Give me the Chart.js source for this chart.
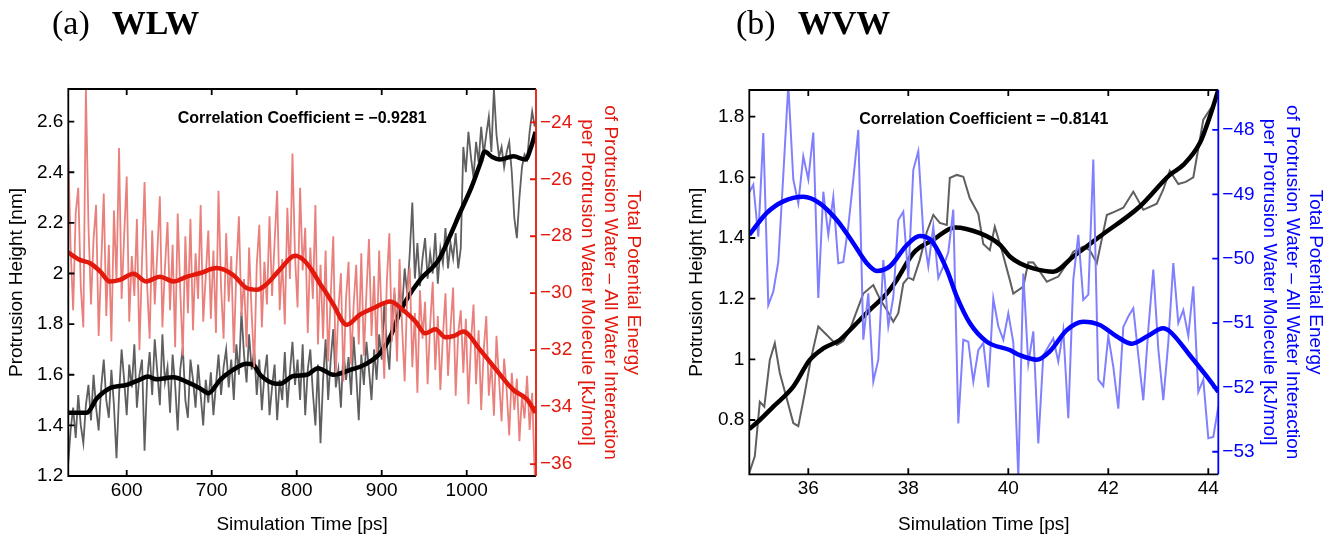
<!DOCTYPE html>
<html>
<head>
<meta charset="utf-8">
<title>WLW / WVW protrusion height and energy</title>
<script src="https://cdn.jsdelivr.net/npm/chart.js@4.4.1/dist/chart.umd.min.js"></script>
<style>
  html, body { margin: 0; padding: 0; background: #fff; }
  #page { position: relative; width: 1330px; height: 539px; overflow: hidden; }
  canvas { position: absolute; top: 0; }
  #chartA { left: 0; }
  #chartB { left: 665px; }
  .tag { position: absolute; top: 6px; font-family: "Liberation Serif", "DejaVu Serif", serif; font-size: 34px; line-height: 1; white-space: nowrap; }
  .tag b { margin-left: 22px; }
</style>
</head>
<body>
<div id="page">
  <canvas id="chartA" width="665" height="539"></canvas>
  <canvas id="chartB" width="665" height="539"></canvas>
  <div class="tag" style="left:52px">(a)<b>WLW</b></div>
  <div class="tag" style="left:736px">(b)<b>WVW</b></div>
</div>
<script>
Chart.defaults.font.family = '"Liberation Sans", Arial, Helvetica, sans-serif';
Chart.defaults.font.size = 19;
Chart.defaults.color = '#000';

// ---- (a) WLW ----
const aTime = [531,534,537,540,543,546,549,552,555,558,
  561,564,567,570,573,576,579,582,585,588,
  591,594,597,600,603,606,609,612,615,618,
  621,624,627,630,633,636,639,642,645,648,
  651,654,657,660,663,666,669,672,675,678,
  681,684,687,690,693,696,699,702,705,708,
  711,714,717,720,723,726,729,732,735,738,
  741,744,747,750,753,756,759,762,765,768,
  771,774,777,780,783,786,789,792,795,798,
  801,804,807,810,813,816,819,822,825,828,
  831,834,837,840,843,846,849,852,855,858,
  861,864,867,870,873,876,879,882,885,888,
  891,894,897,900,903,906,909,912,915,918,
  921,924,927,930,933,936,939,942,945,948,
  951,954,957,960,963,966,969,972,975,978,
  981,984,987,990,993,996,999,1002,1005,1008,
  1011,1014,1017,1020,1023,1026,1029,1032,1035,1038,
  1041,1044,1047,1050,1053,1056,1059,1062,1065,1068,
  1071,1074,1077,1080];
const aHeight = [1.24,1.38,1.47,1.35,1.52,1.40,1.33,1.48,1.56,1.42,
  1.60,1.47,1.38,1.55,1.66,1.50,1.43,1.62,1.48,1.27,
  1.52,1.70,1.58,1.44,1.64,1.55,1.72,1.47,1.60,1.66,
  1.30,1.58,1.69,1.52,1.74,1.61,1.48,1.76,1.57,1.63,
  1.45,1.68,1.56,1.38,1.62,1.71,1.50,1.43,1.66,1.58,
  1.47,1.64,1.52,1.40,1.58,1.49,1.61,1.44,1.56,1.68,
  1.52,1.63,1.70,1.55,1.66,1.50,1.72,1.60,1.85,1.68,
  1.57,1.76,1.62,1.70,1.52,1.66,1.46,1.60,1.68,1.44,
  1.55,1.64,1.42,1.58,1.50,1.69,1.47,1.61,1.73,1.56,
  1.66,1.50,1.72,1.44,1.62,1.70,1.53,1.40,1.64,1.33,
  1.58,1.74,1.50,1.66,1.78,1.55,1.62,1.47,1.70,1.58,
  1.67,1.52,1.75,1.60,1.42,1.68,1.56,1.73,1.62,1.50,
  1.70,1.58,1.76,1.66,1.88,1.72,1.62,1.84,1.92,1.78,
  1.95,1.86,2.02,1.92,2.08,2.28,1.98,2.12,1.95,2.06,
  2.14,1.98,2.08,2.00,2.16,1.96,2.10,2.04,2.18,2.02,
  2.12,2.06,2.16,2.02,2.10,2.50,2.40,2.56,2.46,2.38,
  2.52,2.44,2.58,2.47,2.55,2.62,2.48,2.73,2.55,2.46,
  2.50,2.42,2.48,2.52,2.40,2.22,2.14,2.30,2.42,2.47,
  2.45,2.56,2.64,2.58];
const aEnergy = [-24.6,-28.4,-30.6,-27.2,-26.3,-29.8,-31.2,-22.8,-27.6,-30.4,
  -28.1,-26.9,-31.5,-29.0,-26.5,-30.8,-28.3,-31.7,-27.1,-29.6,
  -24.9,-30.2,-28.0,-25.9,-31.0,-28.7,-30.1,-27.4,-32.0,-28.9,
  -26.1,-29.7,-31.6,-27.8,-30.4,-28.6,-26.6,-31.2,-29.1,-27.5,
  -30.6,-28.3,-31.9,-27.2,-29.9,-32.2,-28.0,-30.7,-27.4,-31.3,
  -28.6,-30.2,-26.9,-31.0,-29.4,-27.8,-30.9,-28.5,-31.4,-26.4,
  -29.8,-31.6,-27.9,-30.3,-28.7,-32.1,-29.2,-27.3,-30.8,-29.5,
  -31.9,-28.4,-30.7,-32.6,-29.0,-27.6,-31.2,-28.9,-30.4,-27.3,
  -30.1,-28.2,-26.4,-30.6,-28.8,-31.1,-27.0,-29.5,-25.1,-28.7,
  -30.5,-26.3,-29.2,-27.7,-31.4,-28.4,-30.2,-26.9,-31.8,-29.0,
  -31.6,-28.5,-32.4,-30.1,-28.0,-32.8,-30.6,-29.3,-33.1,-30.2,
  -28.9,-32.5,-30.4,-29.0,-31.8,-28.6,-32.2,-30.0,-28.1,-31.5,
  -29.4,-32.1,-28.5,-30.9,-33.0,-29.6,-27.9,-31.7,-29.8,-32.4,
  -28.8,-31.2,-33.1,-30.0,-29.1,-32.6,-30.7,-33.5,-29.9,-31.6,
  -30.3,-33.2,-31.1,-29.6,-32.7,-30.8,-33.4,-31.5,-30.0,-32.9,
  -31.2,-29.8,-33.6,-31.4,-30.6,-32.8,-30.9,-33.9,-31.7,-30.4,
  -33.2,-31.3,-34.1,-32.0,-30.8,-33.6,-32.4,-34.3,-31.5,-33.0,
  -34.5,-32.3,-33.4,-35.0,-32.8,-34.1,-33.0,-35.2,-33.6,-34.4,
  -32.9,-34.8,-33.5,-36.4];
const aSmoothTime = [531,553,565,580,600,615,625,635,655,670,686,696,710,725,741,749,757,772,780,796,
  812,825,843,863,880,898,910,921,929,945,967,980,992,1006,1016,1021,1030,1039,1055,1069,1076,1081];
const aSmoothHeight = [1.45,1.45,1.507,1.547,1.56,1.58,1.593,1.582,1.59,1.573,1.547,1.527,1.58,1.619,1.643,1.639,1.60,1.567,1.564,1.595,
  1.60,1.626,1.60,1.619,1.64,1.685,1.75,1.843,1.896,1.975,2.054,2.146,2.239,2.344,2.436,2.482,2.46,2.45,2.463,2.45,2.502,2.56];
const aSmoothEnergyTime = [531,545,557,569,580,592,608,623,639,655,671,686,706,725,741,753,765,780,798,808,
  818,827,835,843,859,874,890,910,925,940,951,963,975,985,996,1016,1035,1055,1071,1081];
const aSmoothEnergy = [-28.57,-28.83,-28.95,-29.24,-29.59,-29.53,-29.32,-29.59,-29.42,-29.59,-29.42,-29.30,-29.12,-29.36,-29.82,-29.88,-29.67,-29.18,-28.69,-28.83,
  -29.2,-29.65,-30.0,-30.4,-31.11,-30.76,-30.53,-30.29,-30.59,-31.0,-31.41,-31.27,-31.55,-31.5,-31.35,-32.0,-32.70,-33.40,-33.73,-34.2];
const aTicksX = [600, 700, 800, 900, 1000];
const aTicksY = [1.2, 1.4, 1.6, 1.8, 2, 2.2, 2.4, 2.6];
const aTicksY2 = [-36, -34, -32, -30, -28, -26, -24];

// ---- (b) WVW ----
const bTime = [34.8,34.9,35.0,35.1,35.2,35.3,35.4,35.5,35.6,35.7,
  35.8,35.9,36.0,36.1,36.2,36.3,36.4,36.5,36.6,36.7,
  36.8,36.9,37.0,37.1,37.2,37.3,37.4,37.5,37.6,37.7,
  37.8,37.9,38.0,38.1,38.2,38.3,38.4,38.5,38.6,38.7,
  38.8,38.9,39.0,39.1,39.2,39.3,39.4,39.5,39.6,39.7,
  39.8,39.9,40.0,40.1,40.2,40.3,40.4,40.5,40.6,40.7,
  40.8,40.9,41.0,41.1,41.2,41.3,41.4,41.5,41.6,41.7,
  41.8,41.9,42.0,42.1,42.2,42.3,42.4,42.5,42.6,42.7,
  42.8,42.9,43.0,43.1,43.2,43.3,43.4,43.5,43.6,43.7,
  43.8,43.9,44.0,44.1,44.2];
const bEnergy = [-49.0,-48.85,-49.66,-48.05,-50.72,-50.51,-50.05,-48.7,-47.3,-48.77,
  -49.14,-48.41,-48.77,-48.04,-50.61,-48.96,-49.63,-49.04,-50.07,-50.05,
  -49.5,-48.77,-48.0,-51.26,-50.54,-51.91,-51.57,-50.02,-51.05,-50.6,
  -49.40,-49.27,-50.3,-48.62,-48.33,-49.6,-50.12,-49.5,-50.3,-50.12,
  -49.9,-49.24,-52.56,-51.26,-51.29,-51.91,-51.42,-51.31,-52.0,-50.62,
  -51.05,-51.26,-50.85,-51.3,-53.4,-50.23,-51.63,-51.13,-52.87,-51.5,
  -51.37,-51.24,-51.6,-51.11,-52.48,-50.33,-49.63,-50.64,-50.56,-48.46,
  -51.88,-51.98,-51.2,-51.68,-52.33,-51.06,-50.9,-50.77,-51.5,-52.2,
  -51.1,-50.17,-51.4,-52.2,-51.3,-50.07,-51.0,-50.8,-51.2,-50.43,
  -52.07,-51.88,-52.79,-52.77,-52.3];
const bHeightTime = [34.82,34.93,35.03,35.12,35.23,35.33,35.43,35.57,35.7,35.8,
  35.93,36.05,36.2,36.37,36.57,36.7,36.83,36.97,37.1,37.3,
  37.43,37.57,37.7,37.8,37.9,38.0,38.1,38.23,38.37,38.5,
  38.63,38.77,38.83,38.97,39.1,39.23,39.4,39.5,39.63,39.73,
  39.87,40.03,40.1,40.3,40.4,40.5,40.63,40.77,41.0,41.15,
  41.3,41.5,41.63,41.77,41.97,42.13,42.3,42.5,42.7,42.97,
  43.1,43.23,43.4,43.55,43.7,43.9,44.1,44.2];
const bHeight = [0.626,0.68,0.86,0.844,0.998,1.053,0.955,0.87,0.79,0.78,
  0.889,1.0,1.108,1.08,1.047,1.06,1.097,1.16,1.217,1.245,
  1.2,1.163,1.124,1.152,1.25,1.27,1.262,1.328,1.42,1.476,
  1.45,1.443,1.598,1.608,1.602,1.531,1.48,1.38,1.36,1.437,
  1.36,1.262,1.217,1.24,1.32,1.319,1.29,1.256,1.273,1.31,
  1.355,1.372,1.36,1.317,1.476,1.487,1.5,1.553,1.493,1.513,
  1.56,1.622,1.578,1.585,1.60,1.79,1.84,1.89];
const bSmoothTime = [34.82,35.03,35.3,35.7,36.03,36.3,36.63,36.9,37.23,37.57,37.77,38.1,38.5,38.93,
  39.43,39.83,40.03,40.23,40.5,40.9,41.3,41.83,42.63,43.23,43.5,43.83,44.03,44.2];
const bSmoothHeight = [0.77,0.80,0.844,0.91,0.998,1.036,1.064,1.108,1.163,1.217,1.262,1.35,1.394,1.435,
  1.416,1.378,1.339,1.317,1.30,1.289,1.339,1.405,1.504,1.608,1.641,1.713,1.80,1.888];
const bSmoothEnergyTime = [34.82,35.17,35.5,35.9,36.23,36.57,36.9,37.17,37.37,37.63,37.97,38.23,38.47,38.77,38.97,39.23,
  39.57,40.03,40.23,40.57,40.83,41.17,41.5,41.83,42.17,42.47,42.77,43.1,43.23,43.63,43.97,44.2];
const bSmoothEnergy = [-49.63,-49.29,-49.11,-49.04,-49.14,-49.40,-49.76,-50.07,-50.19,-50.12,-49.79,-49.65,-49.73,-50.17,-50.59,-51.0,
  -51.29,-51.42,-51.50,-51.57,-51.44,-51.11,-50.98,-51.03,-51.21,-51.32,-51.21,-51.08,-51.13,-51.5,-51.83,-52.07];
const bTicksX = [36, 38, 40, 42, 44];
const bTicksY = [0.8, 1, 1.2, 1.4, 1.6, 1.8];
const bTicksY2 = [-53, -52, -51, -50, -49, -48];

const rightTitle = ['Total Potential Energy',
  'of Protrusion Water \u2013 All Water Interaction',
  'per Protrusion Water Molecule [kJ/mol]'];

const pairs = (xs, ys) => xs.map((x, i) => ({ x: x, y: ys[i] }));
const numLabel = v => (v < 0 ? '\u2212' + Math.abs(v) : String(v));

// box frame with inward ticks (MATLAB style) + correlation note
const frame = {
  id: 'frame',
  afterDatasetsDraw(chart, args, opts) {
    const { ctx, chartArea: area, scales } = chart;
    const tl = 6;
    ctx.save();
    ctx.lineWidth = 1.8;
    ctx.strokeStyle = '#000';
    ctx.beginPath();
    ctx.moveTo(area.right, area.top);
    ctx.lineTo(area.left, area.top);
    ctx.lineTo(area.left, area.bottom);
    ctx.lineTo(area.right, area.bottom);
    scales.x.ticks.forEach(t => {
      const px = scales.x.getPixelForValue(t.value);
      ctx.moveTo(px, area.bottom); ctx.lineTo(px, area.bottom - tl);
      ctx.moveTo(px, area.top); ctx.lineTo(px, area.top + tl);
    });
    scales.y.ticks.forEach(t => {
      const py = scales.y.getPixelForValue(t.value);
      ctx.moveTo(area.left, py); ctx.lineTo(area.left + tl, py);
    });
    ctx.stroke();

    ctx.strokeStyle = opts.color;
    ctx.beginPath();
    ctx.moveTo(area.right, area.top);
    ctx.lineTo(area.right, area.bottom);
    scales.y2.ticks.forEach(t => {
      const py = scales.y2.getPixelForValue(t.value);
      ctx.moveTo(area.right, py); ctx.lineTo(area.right - tl, py);
    });
    ctx.stroke();

    ctx.fillStyle = '#000';
    ctx.font = 'bold 16px "Liberation Sans", Arial, sans-serif';
    ctx.textAlign = 'center';
    ctx.textBaseline = 'middle';
    ctx.fillText(opts.note, (area.left + area.right) / 2, area.top + 30);
    ctx.restore();
  }
};

function makeChart(id, c) {
  const fixTicks = list => scale => { scale.ticks = list.map(v => ({ value: v })); };
  return new Chart(document.getElementById(id), {
    type: 'line',
    data: { datasets: c.datasets },
    options: {
      responsive: false,
      animation: false,
      events: [],
      layout: { padding: { top: c.top, left: 0, right: 0, bottom: 0 } },
      plugins: {
        legend: { display: false },
        tooltip: { enabled: false },
        frame: { color: c.color, note: c.note }
      },
      scales: {
        x: {
          type: 'linear', min: c.xMin, max: c.xMax,
          afterBuildTicks: fixTicks(c.ticksX),
          afterFit: s => { s.height = c.xHeight; },
          grid: { display: false, drawTicks: false },
          border: { display: false },
          ticks: { padding: 3, autoSkip: false, maxRotation: 0, callback: numLabel },
          title: { display: true, text: 'Simulation Time [ps]', padding: { top: 0, bottom: 2.6 } }
        },
        y: {
          type: 'linear', position: 'left', min: c.yMin, max: c.yMax,
          afterBuildTicks: fixTicks(c.ticksY),
          afterFit: s => { s.width = c.yWidth; },
          grid: { display: false, drawTicks: false },
          border: { display: false },
          ticks: { padding: 5, autoSkip: false, callback: numLabel },
          title: { display: true, text: 'Protrusion Height [nm]', padding: { top: c.yTitlePad, bottom: 0 } }
        },
        y2: {
          type: 'linear', position: 'right', min: c.y2Min, max: c.y2Max,
          afterBuildTicks: fixTicks(c.ticksY2),
          afterFit: s => { s.width = c.y2Width; },
          grid: { display: false, drawTicks: false },
          border: { display: false },
          ticks: { padding: 4, autoSkip: false, color: c.color, callback: numLabel },
          title: { display: true, text: rightTitle, color: c.color, padding: { top: c.y2TitlePad, bottom: 0 } }
        }
      }
    },
    plugins: [frame]
  });
}

const grey = '#5f5f5f';
const red = '#e2190c';
const pink = 'rgb(233,128,124)';
const blue = '#0000ff';
const lightBlue = 'rgb(128,128,255)';

makeChart('chartA', {
  top: 89, xHeight: 63, yWidth: 68.3, y2Width: 129, yTitlePad: 5.3, y2TitlePad: 20.6,
  xMin: 531.3, xMax: 1081.5, yMin: 1.2, yMax: 2.729, y2Min: -36.42, y2Max: -22.83,
  ticksX: aTicksX, ticksY: aTicksY, ticksY2: aTicksY2,
  color: red, note: 'Correlation Coefficient = \u22120.9281',
  datasets: [
    { data: pairs(aSmoothEnergyTime, aSmoothEnergy), yAxisID: 'y2', borderColor: red, borderWidth: 4.5,
      pointRadius: 0, cubicInterpolationMode: 'monotone', order: 1 },
    { data: pairs(aTime, aEnergy), yAxisID: 'y2', borderColor: pink, borderWidth: 1.8,
      pointRadius: 0, tension: 0, order: 2 },
    { data: pairs(aSmoothTime, aSmoothHeight), yAxisID: 'y', borderColor: '#000', borderWidth: 4.5,
      pointRadius: 0, cubicInterpolationMode: 'monotone', order: 3 },
    { data: pairs(aTime, aHeight), yAxisID: 'y', borderColor: grey, borderWidth: 1.8,
      pointRadius: 0, tension: 0, order: 4 }
  ]
});

makeChart('chartB', {
  top: 90, xHeight: 64.7, yWidth: 84.3, y2Width: 111.7, yTitlePad: 20.3, y2TitlePad: 3.6,
  xMin: 34.82, xMax: 44.2, yMin: 0.621, yMax: 1.888, y2Min: -53.35, y2Max: -47.38,
  ticksX: bTicksX, ticksY: bTicksY, ticksY2: bTicksY2,
  color: blue, note: 'Correlation Coefficient = \u22120.8141',
  datasets: [
    { data: pairs(bSmoothEnergyTime, bSmoothEnergy), yAxisID: 'y2', borderColor: blue, borderWidth: 4.5,
      pointRadius: 0, cubicInterpolationMode: 'monotone', order: 1 },
    { data: pairs(bTime, bEnergy), yAxisID: 'y2', borderColor: lightBlue, borderWidth: 2,
      pointRadius: 0, tension: 0, order: 2 },
    { data: pairs(bSmoothTime, bSmoothHeight), yAxisID: 'y', borderColor: '#000', borderWidth: 4.5,
      pointRadius: 0, cubicInterpolationMode: 'monotone', order: 3 },
    { data: pairs(bHeightTime, bHeight), yAxisID: 'y', borderColor: grey, borderWidth: 2,
      pointRadius: 0, tension: 0, order: 4 }
  ]
});
</script>
</body>
</html>
